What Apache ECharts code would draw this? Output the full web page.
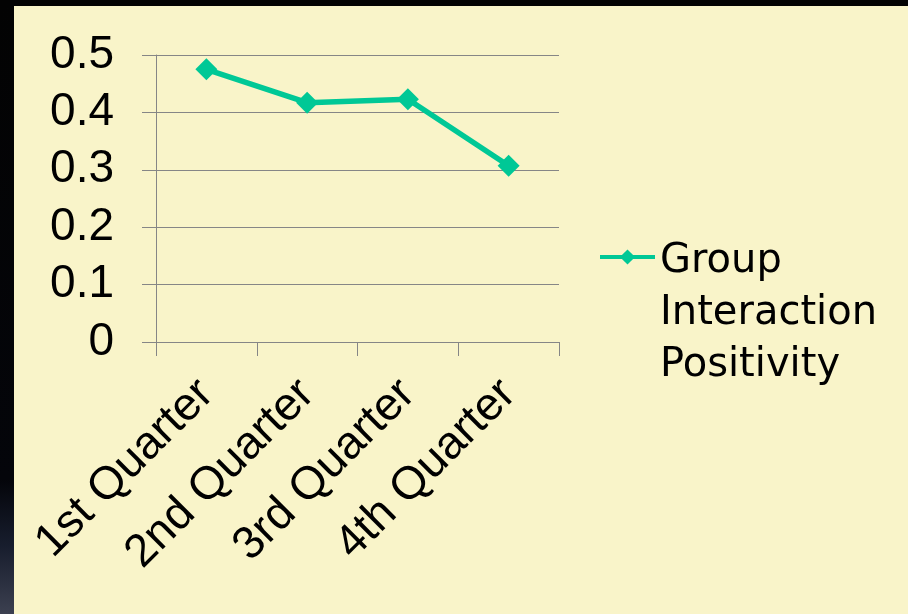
<!DOCTYPE html>
<html>
<head>
<meta charset="utf-8">
<script src="https://cdn.jsdelivr.net/npm/echarts@6/dist/echarts.min.js"></script>
<style>
  html, body { margin: 0; padding: 0; width: 908px; height: 614px; overflow: hidden; }
  body {
    background: linear-gradient(to bottom, #030303 0px, #04050a 480px, #171d2d 545px, #2c3141 585px, #3c4050 614px);
  }
  #chart { position: absolute; left: 14px; top: 6px; width: 894px; height: 608px; }
</style>
</head>
<body>
<div id="chart"></div>
<script>
// Quarterly values for the single series
const categories = ['1st Quarter', '2nd Quarter', '3rd Quarter', '4th Quarter'];
const seriesName = 'Group\nInteraction\nPositivity';
const positivity = [0.475, 0.417, 0.423, 0.307];
const yTicks = { min: 0, max: 0.5, interval: 0.1 };

const chart = echarts.init(document.getElementById('chart'), null, { renderer: 'canvas' });
const axisGray = '#868686';
const lineGreen = '#00c896';
const labelFont = 'Liberation Sans, Arial, sans-serif';

chart.setOption({
  backgroundColor: '#f9f4c9',
  animation: false,
  grid: { left: 142, top: 49, width: 403, height: 287 },
  legend: {
    data: [seriesName],
    left: 584,
    top: 116,
    padding: 0,
    itemWidth: 55,
    itemHeight: 19,
    selectedMode: false,
    // two spacer lines on top keep the marker level with the first text line
    formatter: name => '{gap| }\n{gap| }\n' + name.split('\n').map(s => '{t|' + s + '}').join('\n'),
    lineStyle: { width: 4, color: lineGreen },
    itemStyle: { color: lineGreen },
    textStyle: {
      fontFamily: 'DejaVu Sans, sans-serif',
      fontSize: 40,
      color: '#000',
      lineHeight: 52,
      rich: {
        gap: { fontSize: 40, lineHeight: 57 },
        t: { fontFamily: 'DejaVu Sans, sans-serif', fontSize: 40, color: '#000', lineHeight: 52 }
      }
    }
  },
  xAxis: {
    type: 'category',
    data: categories,
    boundaryGap: true,
    axisLine: { lineStyle: { color: axisGray, width: 1 } },
    axisTick: { show: true, length: 14, lineStyle: { color: axisGray } },
    axisLabel: {
      rotate: 45,
      interval: 0,
      margin: 45,
      fontFamily: labelFont,
      fontSize: 46,
      color: '#000'
    },
    splitLine: { show: false }
  },
  yAxis: {
    type: 'value',
    min: yTicks.min,
    max: yTicks.max,
    interval: yTicks.interval,
    axisLine: { show: true, lineStyle: { color: axisGray, width: 1 } },
    axisTick: { show: true, length: 14, lineStyle: { color: axisGray } },
    axisLabel: {
      margin: 42,
      fontFamily: labelFont,
      fontSize: 46,
      color: '#000',
      formatter: v => (v === 0 ? '0' : v.toFixed(1))
    },
    splitLine: { show: true, lineStyle: { color: axisGray, width: 1 } }
  },
  series: [{
    name: seriesName,
    type: 'line',
    data: positivity,
    symbol: 'diamond',
    symbolSize: 22,
    lineStyle: { color: lineGreen, width: 5.5 },
    itemStyle: { color: lineGreen },
    z: 3
  }]
});
</script>
</body>
</html>
